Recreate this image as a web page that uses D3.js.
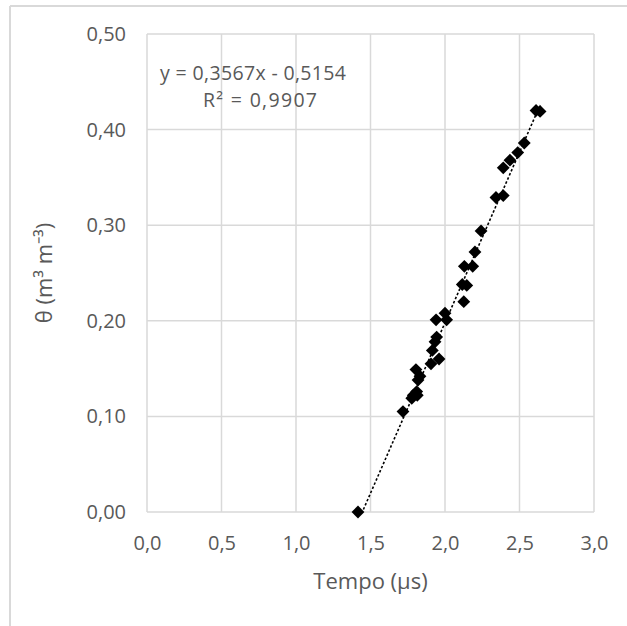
<!DOCTYPE html>
<html>
<head>
<meta charset="utf-8">
<title>Theta vs Tempo</title>
<script src="https://cdnjs.cloudflare.com/ajax/libs/d3/7.8.5/d3.min.js"></script>
<style>
body { margin: 0; background: #fff; }
svg text { font-family: "Open Sans", sans-serif; fill: #595959; }
.grid line { stroke: #d9d9d9; stroke-width: 1.5px; }
.trend { fill: none; stroke: #000; stroke-width: 1.6px; stroke-dasharray: 2.5,2; }
</style>
</head>
<body>
<script>
// values
var tempo = [1.416, 1.718, 1.777, 1.787, 1.814, 1.810, 1.805, 1.832, 1.819, 1.906,
             1.960, 1.915, 1.933, 1.944, 1.940, 2.000, 2.011, 2.126, 2.116, 2.146,
             2.130, 2.186, 2.201, 2.242, 2.342, 2.391, 2.391, 2.436, 2.488, 2.532,
             2.611, 2.638];
var theta = [0.000, 0.105, 0.119, 0.122, 0.122, 0.126, 0.149, 0.142, 0.138, 0.155,
             0.160, 0.169, 0.178, 0.183, 0.201, 0.208, 0.201, 0.220, 0.238, 0.237,
             0.257, 0.257, 0.272, 0.294, 0.329, 0.331, 0.360, 0.368, 0.376, 0.386,
             0.420, 0.419];
var xTicks = [0, 0.5, 1, 1.5, 2, 2.5, 3];
var yTicks = [0, 0.1, 0.2, 0.3, 0.4, 0.5];
var slope = 0.3567, intercept = -0.5154;
var eqLines = ["y = 0,3567x - 0,5154", "R\u00b2 = 0,9907"];

var W = 627, H = 626;
var margin = {left: 147, right: 33, top: 34, bottom: 114};
var width = W - margin.left - margin.right,
    height = H - margin.top - margin.bottom;

var svg = d3.select("body").append("svg")
    .attr("width", W)
    .attr("height", H);

// outer chart frame (only top and left visible)
svg.append("line").attr("x1", 10).attr("x2", W).attr("y1", 6).attr("y2", 6)
    .attr("stroke", "#d9d9d9").attr("stroke-width", 2);
svg.append("line").attr("x1", 10).attr("x2", 10).attr("y1", 6).attr("y2", H)
    .attr("stroke", "#d9d9d9").attr("stroke-width", 2);

var g = svg.append("g")
    .attr("transform", "translate(" + margin.left + "," + margin.top + ")");

var x = d3.scaleLinear().domain([0, 3]).range([0, width]);
var y = d3.scaleLinear().domain([0, 0.5]).range([height, 0]);

var fmtX = function(d) { return d3.format(".1f")(d).replace(".", ","); };
var fmtY = function(d) { return d3.format(".2f")(d).replace(".", ","); };

// gridlines
g.append("g").attr("class", "grid")
    .selectAll("line").data(xTicks).enter().append("line")
    .attr("x1", function(d) { return x(d); })
    .attr("x2", function(d) { return x(d); })
    .attr("y1", 0).attr("y2", height);
g.append("g").attr("class", "grid")
    .selectAll("line").data(yTicks).enter().append("line")
    .attr("x1", 0).attr("x2", width)
    .attr("y1", function(d) { return y(d); })
    .attr("y2", function(d) { return y(d); });

// axes (labels only)
var xAxis = g.append("g")
    .attr("transform", "translate(0," + height + ")")
    .call(d3.axisBottom(x).tickValues(xTicks).tickFormat(fmtX).tickSize(0).tickPadding(24));
var yAxis = g.append("g")
    .call(d3.axisLeft(y).tickValues(yTicks).tickFormat(fmtY).tickSize(0).tickPadding(21));
[xAxis, yAxis].forEach(function(a) {
    a.select(".domain").remove();
    a.selectAll("text").style("font-size", "20px").attr("fill", "#595959")
        .style("font-family", "'Open Sans', sans-serif");
});

// trendline
g.append("clipPath").attr("id", "plotclip")
    .append("rect").attr("width", width).attr("height", height);
var xr = d3.extent(tempo);
g.append("path")
    .attr("class", "trend")
    .attr("clip-path", "url(#plotclip)")
    .attr("d", d3.line()
        .x(function(d) { return x(d); })
        .y(function(d) { return y(slope * d + intercept); })(xr));

// markers
var pts = tempo.map(function(t, i) { return {t: t, v: theta[i]}; });
g.append("g").selectAll("path").data(pts).enter().append("path")
    .attr("d", d3.symbol().type(d3.symbolDiamond2).size(105))
    .attr("transform", function(d) { return "translate(" + x(d.t) + "," + y(d.v) + ")"; })
    .attr("fill", "#000");

// equation
svg.append("text").attr("x", 160).attr("y", 80)
    .attr("textLength", 186).attr("lengthAdjust", "spacing")
    .style("font-size", "19.5px").text(eqLines[0]);
svg.append("text").attr("x", 203).attr("y", 107)
    .attr("textLength", 114).attr("lengthAdjust", "spacing")
    .style("font-size", "19.5px").text(eqLines[1]);

// axis titles
svg.append("text")
    .attr("x", margin.left + width / 2).attr("y", 589)
    .attr("text-anchor", "middle").style("font-size", "22px")
    .text("Tempo (\u00b5s)");
svg.append("text")
    .attr("transform", "translate(52," + 273 + ") rotate(-90)")
    .attr("text-anchor", "middle").style("font-size", "22px")
    .text("\u03b8 (m\u00b3 m\u207b\u00b3)");
</script>
</body>
</html>
